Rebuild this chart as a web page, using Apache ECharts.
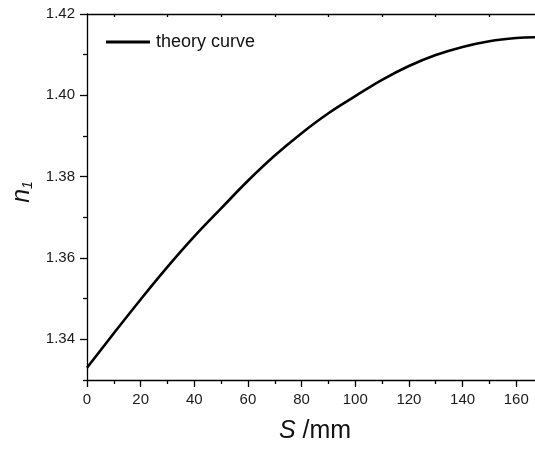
<!DOCTYPE html>
<html>
<head>
<meta charset="utf-8">
<script src="https://cdn.jsdelivr.net/npm/echarts@6/dist/echarts.min.js"></script>
<style>html,body{margin:0;padding:0;background:#fff}#c{width:535px;height:449px}</style>
</head>
<body>
<div id="c"></div>
<script>
var sValues = [0, 10, 20, 30, 40, 50, 60, 70, 80, 90, 100, 110, 120, 130, 140, 150, 160, 167];
var nValues = [1.3330, 1.3415, 1.3498, 1.3578, 1.3653, 1.3722, 1.3790, 1.3852, 1.3907, 1.3956, 1.3998, 1.4038, 1.4072, 1.4099, 1.4119, 1.4133, 1.4141, 1.4143];
var seriesName = 'theory curve';
var xMajorTicks = [0, 20, 40, 60, 80, 100, 120, 140, 160];
var xMinorTicks = [10, 30, 50, 70, 90, 110, 130, 150];
var yMajorTicks = [1.34, 1.36, 1.38, 1.40, 1.42];
var yMinorTicks = [1.33, 1.35, 1.37, 1.39, 1.41];

var data = sValues.map(function (s, i) { return [s, nValues[i]]; });
var font = 'Liberation Sans, Arial, sans-serif';
var black = '#000';

var chart = echarts.init(document.getElementById('c'));
chart.setOption({
  animation: false,
  grid: { left: 87, right: 0, top: 14, bottom: 69 },
  legend: {
    left: 101, top: 28, padding: 5,
    itemWidth: 44, itemHeight: 3, itemGap: 5,
    icon: 'rect',
    data: [seriesName],
    textStyle: { fontFamily: font, fontSize: 18, color: '#111', padding: [0, 0, 0, 1] }
  },
  xAxis: [{
    type: 'value', min: 0, max: 167, position: 'bottom',
    axisLine: { show: true, onZero: false, lineStyle: { color: black, width: 1.3 } },
    axisTick: { show: true, length: 7, customValues: xMajorTicks, lineStyle: { color: black, width: 1.3 } },
    axisLabel: { customValues: xMajorTicks, margin: 12, fontFamily: font, fontSize: 15, color: '#1a1a1a' },
    splitLine: { show: false },
    name: '{i|S} /mm', nameLocation: 'middle', nameGap: 39,
    nameTextStyle: { fontFamily: font, fontSize: 25, color: '#111', padding: [0, 0, 0, 8],
      rich: { i: { fontFamily: font, fontSize: 25, fontStyle: 'italic', color: '#111' } } }
  }, {
    type: 'value', min: 0, max: 167, position: 'bottom',
    axisLine: { show: false, onZero: false },
    axisTick: { show: true, length: 4, customValues: xMinorTicks, lineStyle: { color: black, width: 1.3 } },
    axisLabel: { show: false }, splitLine: { show: false }
  }, {
    type: 'value', min: 0, max: 167, position: 'top',
    axisLine: { show: true, onZero: false, lineStyle: { color: black, width: 1.3 } },
    axisTick: { show: true, inside: true, length: 3, customValues: xMinorTicks, lineStyle: { color: black, width: 1.3 } },
    axisLabel: { show: false }, splitLine: { show: false }
  }],
  yAxis: [{
    type: 'value', min: 1.33, max: 1.42, position: 'left',
    axisLine: { show: true, onZero: false, lineStyle: { color: black, width: 1.3 } },
    axisTick: { show: true, length: 7, customValues: yMajorTicks, lineStyle: { color: black, width: 1.3 } },
    axisLabel: { customValues: yMajorTicks, margin: 12, fontFamily: font, fontSize: 15, color: '#1a1a1a',
      formatter: function (v) { return v.toFixed(2); } },
    splitLine: { show: false },
    name: '{i|n}{s|1}', nameLocation: 'middle', nameGap: 50, nameRotate: 90,
    nameTextStyle: { fontFamily: font, fontSize: 22, color: '#111', padding: [0, 0, 0, 10],
      rich: {
        i: { fontFamily: font, fontSize: 25, fontStyle: 'italic', color: '#111', verticalAlign: 'bottom' },
        s: { fontFamily: font, fontSize: 14, fontStyle: 'italic', color: '#111', verticalAlign: 'bottom', padding: [12, 0, 0, 0] }
      } }
  }, {
    type: 'value', min: 1.33, max: 1.42, position: 'left',
    axisLine: { show: false, onZero: false },
    axisTick: { show: true, length: 4, customValues: yMinorTicks, lineStyle: { color: black, width: 1.3 } },
    axisLabel: { show: false }, splitLine: { show: false }
  }],
  series: [{
    name: seriesName, type: 'line', data: data,
    xAxisIndex: 0, yAxisIndex: 0,
    smooth: 0.4, showSymbol: false, symbol: 'none',
    lineStyle: { color: black, width: 2.6 },
    itemStyle: { color: black }
  }]
});
</script>
</body>
</html>
